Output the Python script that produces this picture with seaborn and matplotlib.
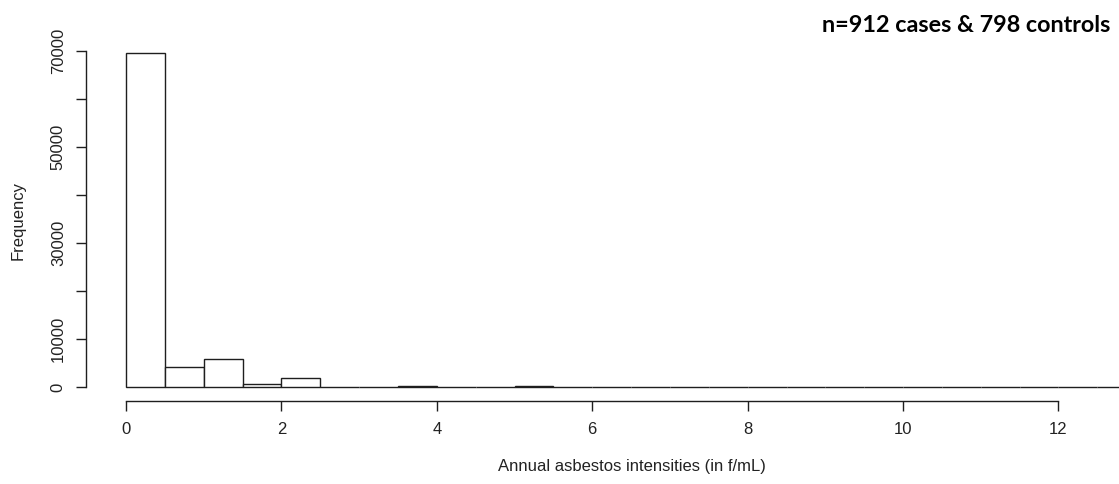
import numpy as np
import pandas as pd
import matplotlib
matplotlib.use("Agg")
import matplotlib.pyplot as plt
import seaborn as sns

# Histogram bins (f/mL) and their frequencies
bin_edges = [0.0, 0.5, 1.0, 1.5, 2.0, 2.5, 3.0, 3.5, 4.0, 4.5, 5.0, 5.5, 6.0,
             6.5, 7.0, 7.5, 8.0, 8.5, 9.0, 9.5, 10.0, 10.5, 11.0, 11.5, 12.0,
             12.5, 13.0]
frequencies = [69500, 4300, 5900, 600, 1900, 0, 0, 300, 0, 0, 300, 0, 0,
               0, 0, 0, 0, 0, 0, 0, 0, 0, 0, 0, 0, 20]
x_ticks = [0, 2, 4, 6, 8, 10, 12]
y_ticks = [0, 10000, 20000, 30000, 40000, 50000, 60000, 70000]
y_tick_labels = ["0", "10000", "", "30000", "", "50000", "", "70000"]
title_text = "n=912 cases & 798 controls"
x_label = "Annual asbestos intensities (in f/mL)"
y_label = "Frequency"

sns.set_style("ticks")
plt.rcParams["font.family"] = ["Liberation Sans", "DejaVu Sans"]

W, H = 1119, 484
fig = plt.figure(figsize=(W / 100, H / 100), dpi=100)

# axes box in pixels
px_left, px_right, px_top, px_bottom = 80, 1119, 45, 405
ax = fig.add_axes([px_left / W, 1 - px_bottom / H,
                   (px_right - px_left) / W, (px_bottom - px_top) / H])

# pixel <-> data mapping
x0_px, x_scale = 126.0, (1058.5 - 126.0) / 12.0
y0_px, y_scale = 387.3, (387.3 - 51.0) / 70000.0
ax.set_xlim((px_left - x0_px) / x_scale, (px_right - x0_px) / x_scale)
ax.set_ylim(-(px_bottom - y0_px) / y_scale, (y0_px - px_top) / y_scale)

df = pd.DataFrame({
    "mid": [(a + b) / 2 for a, b in zip(bin_edges[:-1], bin_edges[1:])],
    "freq": frequencies,
})
line_col = "#1e1e1e"
sns.histplot(data=df, x="mid", weights="freq", bins=bin_edges, ax=ax,
             stat="count", color="white", edgecolor=line_col, linewidth=1.0,
             alpha=1.0, element="bars", fill=True)

# R-style detached axes
for s in ["top", "right"]:
    ax.spines[s].set_visible(False)
ax.spines["left"].set_position(("data", (86 - x0_px) / x_scale))
ax.spines["bottom"].set_position(("data", -(400.7 - y0_px) / y_scale))
ax.spines["left"].set_bounds(0, 70000)
ax.spines["bottom"].set_bounds(0, 12)
for s in ["left", "bottom"]:
    ax.spines[s].set_color(line_col)
    ax.spines[s].set_linewidth(1.0)

ax.set_xticks(x_ticks)
ax.set_xticklabels([str(v) for v in x_ticks])
ax.set_yticks(y_ticks)
ax.set_yticklabels(y_tick_labels, rotation=90, va="center")
ax.tick_params(axis="both", direction="out", length=7, width=1.0,
               color=line_col, labelsize=12, labelcolor="#222222")
ax.tick_params(axis="x", pad=8.5)
ax.tick_params(axis="y", pad=7.5)

ax.set_xlabel("")
ax.set_ylabel("")
fig.text(632 / W, 1 - 467 / H, x_label, ha="center", va="center",
         fontsize=12, color="#222222")
fig.text(18 / W, 1 - 220 / H, y_label, ha="center", va="center",
         rotation=90, fontsize=12, color="#222222")
fig.text(1110 / W, 1 - 25 / H, title_text, ha="right", va="center",
         fontsize=16.8, fontweight="bold", color="black",
         family=["Lato", "DejaVu Sans"])

fig.savefig("out.png", dpi=100, facecolor="white")
